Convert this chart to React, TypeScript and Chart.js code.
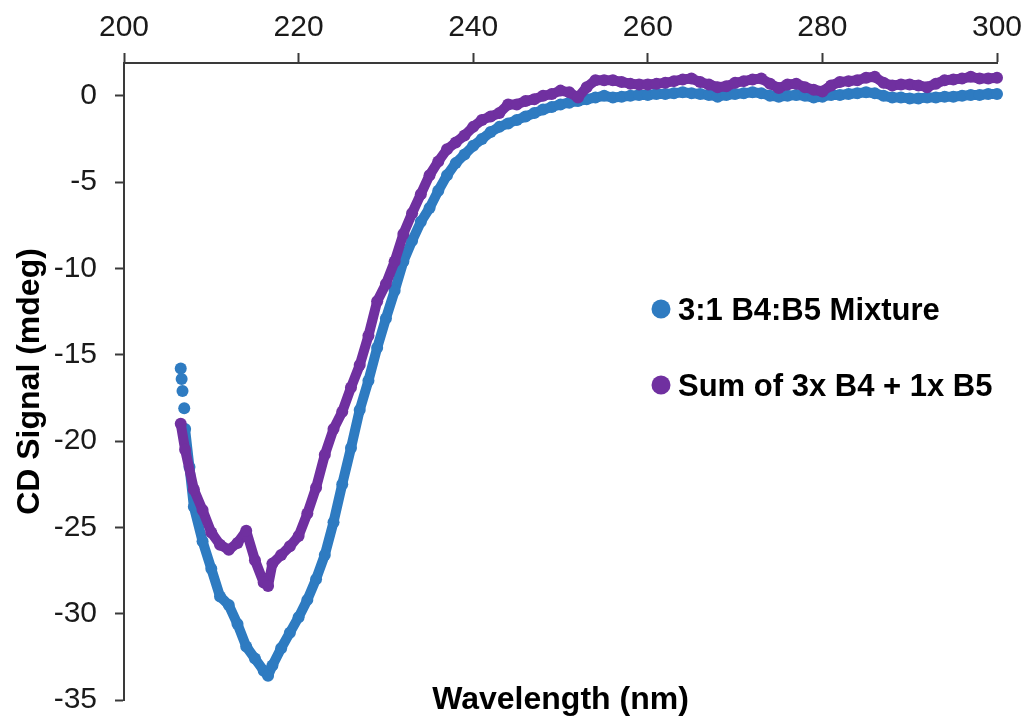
import React, { useEffect, useRef } from "react";
import { Chart, registerables } from "chart.js";

Chart.register(...registerables);

// ---- data ----
const mixtureWavelength = [
  206.5, 206.6, 206.7, 206.9, 207, 207.5, 208, 209, 210, 211, 212, 213, 214, 215, 216, 216.5, 217,
  218, 219, 220, 221, 222, 223, 224, 225, 226, 227, 228, 229, 230, 231, 232, 233, 234, 235, 236, 237,
  238, 239, 240, 241, 242, 243, 244, 245, 246, 247, 248, 249, 250, 251, 252, 253, 254,
  255, 256, 257, 258, 259, 260, 261, 262, 263, 264, 265, 266, 267, 268, 269, 270, 271, 272, 273, 274,
  275, 276, 277, 278, 279, 280, 281, 282, 283, 284, 285, 286, 287, 288, 289, 290, 291, 292, 293, 294,
  295, 296, 297, 298, 299, 300,
];
const mixtureSignal = [
  -15.8, -16.4, -17.1, -18.1, -19.3, -21.5, -23.8, -25.8, -27.4, -29.0, -29.5, -30.6, -31.9, -32.6, -33.3, -33.6, -33.0,
  -32.0, -31.1, -30.2, -29.2, -28.0, -26.6, -24.7, -22.5, -20.4, -18.2, -16.5, -14.6, -12.9, -11.3, -9.6, -8.4, -7.3, -6.5, -5.5, -4.6,
  -3.9, -3.4, -2.9, -2.5, -2.1, -1.8, -1.6, -1.4, -1.2, -1.0, -0.8, -0.65, -0.5, -0.4, -0.3, -0.2, -0.1,
  0.0, -0.1, -0.05, 0.0, 0.05, 0.05, 0.1, 0.1, 0.15, 0.2, 0.15, 0.1, 0.05, -0.05, 0.05, 0.1, 0.15, 0.2, 0.15, 0.0,
  -0.05, 0.0, 0.05, 0.0, -0.1, -0.05, 0.05, 0.05, 0.1, 0.15, 0.2, 0.15, 0.0, -0.1, -0.1, -0.15, -0.15, -0.1, -0.1, -0.05,
  -0.05, 0.0, 0.05, 0.05, 0.1, 0.1,
];

const sumWavelength = [
  206.5, 207, 208, 209, 210, 211, 212, 213, 214, 215, 216, 216.5, 217,
  218, 219, 220, 221, 222, 223, 224, 225, 226, 227, 228, 229, 230, 231, 232, 233, 234, 235, 236, 237,
  238, 239, 240, 241, 242, 243, 244, 245, 246, 247, 248, 249, 250, 251, 252, 253, 254,
  255, 256, 257, 258, 259, 260, 261, 262, 263, 264, 265, 266, 267, 268, 269, 270, 271, 272, 273, 274,
  275, 276, 277, 278, 279, 280, 281, 282, 283, 284, 285, 286, 287, 288, 289, 290, 291, 292, 293, 294,
  295, 296, 297, 298, 299, 300,
];
const sumSignal = [
  -19.0, -20.5, -22.8, -24.0, -25.3, -26.0, -26.3, -25.9, -25.2, -26.9, -28.2, -28.4, -27.1,
  -26.6, -26.1, -25.5, -24.2, -22.7, -20.8, -19.3, -18.3, -16.9, -15.6, -13.9, -11.9, -10.9, -9.6, -8.0, -6.8, -5.7, -4.6, -3.8, -3.1,
  -2.7, -2.3, -1.8, -1.4, -1.2, -1.0, -0.5, -0.5, -0.3, -0.2, 0.0, 0.1, 0.3, 0.2, -0.1, 0.5, 0.9,
  0.9, 0.9, 0.8, 0.7, 0.65, 0.65, 0.7, 0.75, 0.85, 0.95, 1.0, 0.8, 0.65, 0.5, 0.55, 0.75, 0.85, 0.95, 1.0, 0.7,
  0.45, 0.65, 0.7, 0.5, 0.35, 0.25, 0.6, 0.8, 0.85, 0.9, 1.05, 1.1, 0.75, 0.6, 0.65, 0.65, 0.6, 0.5, 0.7, 0.9,
  0.95, 1.0, 1.1, 1.0, 1.0, 1.05,
];

const seriesLabels = ["3:1 B4:B5 Mixture", "Sum of 3x B4 + 1x B5"];
const seriesColors = ["#2E7BC1", "#7030A0"];
const xTickValues = [200, 220, 240, 260, 280, 300];
const yTickValues = [0, -5, -10, -15, -20, -25, -30, -35];
const xTitle = "Wavelength (nm)";
const yTitle = "CD Signal (mdeg)";

const FONT = "'Liberation Sans', Arial, Helvetica, sans-serif";
const AXIS = "#3a3a3a";

const overlayPlugin = {
  id: "overlay",
  afterDraw(chart: any) {
    const ctx = chart.ctx;
    const area = chart.chartArea;
    ctx.save();
    // x axis title at the bottom
    ctx.fillStyle = "#000";
    ctx.font = `bold 32px ${FONT}`;
    ctx.textAlign = "center";
    ctx.textBaseline = "middle";
    ctx.fillText(xTitle, (area.left + area.right) / 2, 700);
    // legend inside the plot
    const rows = [311, 387];
    chart.data.datasets.forEach((ds: any, i: number) => {
      const y = rows[i];
      ctx.beginPath();
      ctx.fillStyle = ds.backgroundColor;
      ctx.arc(661, y - 2, 9.5, 0, Math.PI * 2);
      ctx.fill();
      ctx.fillStyle = "#000";
      ctx.textAlign = "left";
      ctx.textBaseline = "middle";
      ctx.font = `bold 31px ${FONT}`;
      ctx.fillText(ds.label, 678, y);
    });
    ctx.restore();
  },
};

export default function App() {
  const ref = useRef<HTMLCanvasElement | null>(null);

  useEffect(() => {
    if (!ref.current) return;
    const makeSet = (xs: number[], ys: number[], i: number, order: number, extra: any = {}) => ({
      label: seriesLabels[i],
      data: xs.map((x, k) => ({ x, y: ys[k] })),
      showLine: true,
      borderColor: seriesColors[i],
      backgroundColor: seriesColors[i],
      borderWidth: 10,
      borderJoinStyle: "round",
      borderCapStyle: "round",
      pointRadius: 6,
      pointBorderWidth: 0,
      pointHoverRadius: 6,
      order,
      clip: false,
      ...extra,
    });
    const chart = new Chart(ref.current, {
      type: "scatter",
      data: {
        datasets: [
          makeSet(mixtureWavelength, mixtureSignal, 0, 1, {
            segment: {
              borderColor: (c: any) => (c.p0DataIndex < 4 ? "rgba(0,0,0,0)" : seriesColors[0]),
            },
          }),
          makeSet(sumWavelength, sumSignal, 1, 0),
        ],
      },
      options: {
        responsive: false,
        animation: false,
        events: [],
        layout: { padding: { left: 0, top: 0, right: 31, bottom: 23 } },
        plugins: { legend: { display: false }, tooltip: { enabled: false } },
        scales: {
          x: {
            type: "linear",
            position: "top",
            min: 200,
            max: 300,
            afterBuildTicks: (s: any) => {
              s.ticks = xTickValues.map((v) => ({ value: v }));
            },
            afterFit: (s: any) => {
              s.height = 63;
              s.paddingLeft = 0;
              s.paddingRight = 0;
            },
            grid: {
              display: true,
              drawOnChartArea: false,
              drawTicks: true,
              tickLength: 10,
              tickWidth: 2,
              tickColor: AXIS,
            },
            border: { display: true, color: AXIS, width: 2 },
            ticks: {
              font: { family: FONT, size: 30 },
              color: "#1a1a1a",
              padding: 7,
              maxRotation: 0,
              autoSkip: false,
            },
          },
          y: {
            type: "linear",
            position: "left",
            min: -35,
            max: 1.9,
            afterBuildTicks: (s: any) => {
              s.ticks = yTickValues.map((v) => ({ value: v }));
            },
            afterFit: (s: any) => {
              s.width = 124;
              s.paddingTop = 0;
              s.paddingBottom = 0;
            },
            grid: {
              display: true,
              drawOnChartArea: false,
              drawTicks: true,
              tickLength: 9,
              tickWidth: 2,
              tickColor: AXIS,
            },
            border: { display: true, color: AXIS, width: 2 },
            ticks: {
              font: { family: FONT, size: 30 },
              color: "#1a1a1a",
              padding: 18,
              autoSkip: false,
            },
            title: {
              display: true,
              text: yTitle,
              color: "#000",
              font: { family: FONT, size: 32, weight: "bold" },
              padding: { top: 11, bottom: 0 },
            },
          },
        },
      },
      plugins: [overlayPlugin],
    } as any);
    return () => chart.destroy();
  }, []);

  return (
    <div style={{ position: "absolute", left: 0, top: 0, width: 1028, height: 723, background: "#fff" }}>
      <canvas ref={ref} width={1028} height={723} style={{ display: "block" }} />
    </div>
  );
}
